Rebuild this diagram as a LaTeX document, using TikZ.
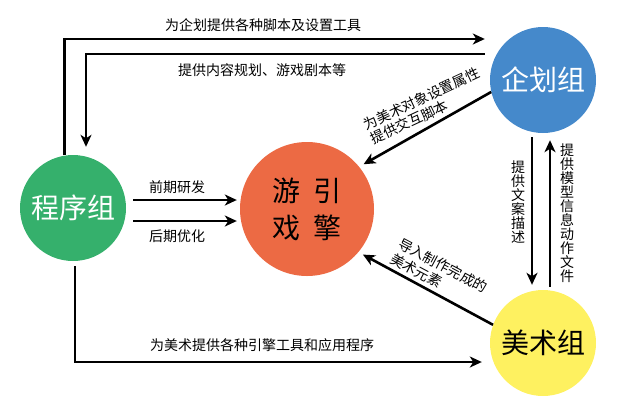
\documentclass[tikz,border=0pt]{standalone}
\usepackage{fontspec}
\setmainfont{Noto Sans CJK SC}
\usetikzlibrary{arrows.meta}
\definecolor{cgreen}{HTML}{35B06C}
\definecolor{corange}{HTML}{EC6A44}
\definecolor{cblue}{HTML}{4589CB}
\definecolor{cyellow}{HTML}{FEF160}
\begin{document}
\begin{tikzpicture}[x=1pt,y=-1pt,
  grp/.style={circle, minimum size=106pt, inner sep=0pt, font=\fontsize{28}{30}\selectfont},
  arr/.style={line width=2.6pt, -{Stealth[length=12pt,width=11pt,inset=3.5pt]}},
  lbl/.style={inner sep=0pt, font=\fontsize{14}{15}\selectfont},
  vlbl/.style={inner sep=0pt, align=center, font=\fontsize{14}{14}\selectfont}]
\useasboundingbox (0,0) rectangle (623,416);
\node[grp, fill=cgreen, text=white] (green) at (73,208) {程序组};
\node[circle, fill=corange, minimum size=134pt, inner sep=0pt, align=center,
      font=\fontsize{28}{37}\selectfont] (engine) at (307,209) {游\hspace{13pt}引\\戏\hspace{13pt}擎};
\node[grp, fill=cblue, text=white] (blue) at (543,80) {企划组};
\node[grp, fill=cyellow] (yellow) at (543,343) {美术组};

\draw[arr, shorten >=5pt] (green.99) |- (blue.west |- 0,39);
\draw[arr, shorten <=5pt, shorten >=8pt] (blue.west |- 0,54) -| (green.north -| 86,0);
\draw[arr, shorten >=5pt] (blue.193) -- (engine.39);
\draw[arr, shorten >=5pt] (yellow.160) -- (engine.-40);
\draw[arr, shorten <=7pt, shorten >=3pt] (green.east |- 0,200) -- (engine.west |- 0,200);
\draw[arr, shorten <=7pt, shorten >=3pt] (green.east |- 0,221) -- (engine.west |- 0,221);
\draw[arr, shorten <=4pt, shorten >=5pt] (blue.south -| 532,0) -- (yellow.north -| 532,0);
\draw[arr, shorten <=3pt, shorten >=7pt] (yellow.north -| 550,0) -- (blue.south -| 550,0);
\draw[arr, shorten <=5pt, shorten >=8pt] (green.south -| 75,0) |- (yellow.west |- 0,362);

\node[lbl] (l1) at (263,25) {为企划提供各种脚本及设置工具};
\node[lbl] (l2) at (262,70) {提供内容规划、游戏剧本等};
\node[lbl] (l3) at (177,187) {前期研发};
\node[lbl] (l4) at (177,236) {后期优化};
\node[lbl] (l5) at (262,345) {为美术提供各种引擎工具和应用程序};
\node[vlbl] (l6) at (518,202) {提\\供\\文\\案\\描\\述};
\node[vlbl] (l7) at (567,213) {提\\供\\模\\型\\信\\息\\动\\作\\文\\件};
\node[lbl, align=left, rotate=25, font=\fontsize{14}{16}\selectfont] (l8) at (425,106) {为美术对象设置属性\\提供交互脚本};
\node[lbl, align=left, rotate=-28, font=\fontsize{14}{17}\selectfont] (l9) at (439,273) {导入制作完成的\\美术元素};
\end{tikzpicture}
\end{document}
